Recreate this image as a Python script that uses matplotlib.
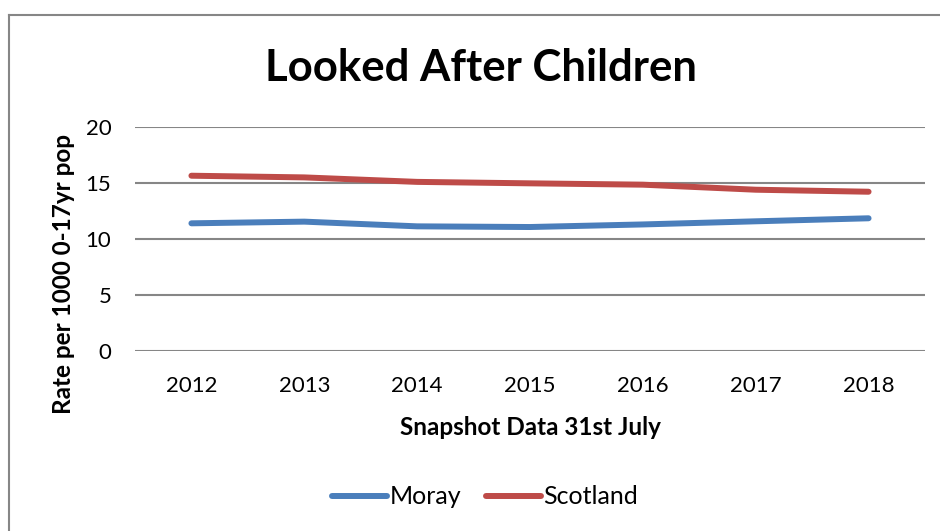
import matplotlib.pyplot as plt
from matplotlib.lines import Line2D

plt.rcParams['font.family'] = ['Lato', 'DejaVu Sans']

years = ['2012', '2013', '2014', '2015', '2016', '2017', '2018']
moray = [11.4, 11.55, 11.13, 11.07, 11.3, 11.58, 11.85]
scotland = [15.65, 15.5, 15.1, 14.97, 14.85, 14.4, 14.22]

fig = plt.figure(figsize=(9.4, 5.31), dpi=100)
W, H = 940, 531

# chart frame (only top and left edges show)
fig.add_artist(Line2D([9 / W, 1], [1 - 15 / H, 1 - 15 / H], color='#868686', lw=1.5))
fig.add_artist(Line2D([9 / W, 9 / W], [0, 1 - 15 / H], color='#868686', lw=1.5))

ax = fig.add_axes([135 / W, 1 - 351 / H, 790 / W, 224 / H])
X = list(range(len(years)))
ax.plot(X, moray, color='#4A7EBB', lw=4.3, solid_capstyle='round', label='Moray')
ax.plot(X, scotland, color='#BE4B48', lw=4.3, solid_capstyle='round', label='Scotland')

ax.set_xlim(-0.5, len(years) - 0.5)
ax.set_ylim(0, 20)
ax.set_yticks([0, 5, 10, 15, 20])
ax.set_xticks(X)
ax.set_xticklabels(years)
ax.yaxis.grid(True, color='#868686', lw=1.5)
ax.set_axisbelow(True)
for s in ax.spines.values():
    s.set_visible(False)
ax.tick_params(length=0, labelsize=16, colors='black')
ax.tick_params(axis='y', pad=17)
ax.tick_params(axis='x', pad=18)

ax.set_xlabel('Snapshot Data 31st July', fontsize=17.5, fontweight='bold')
ax.set_ylabel('Rate per 1000 0-17yr pop', fontsize=17.5, fontweight='bold')
ax.xaxis.set_label_coords(0.5, -(416 - 351) / 224)
ax.yaxis.set_label_coords(-(135 - 75) / 790, (351 - 274) / 224)

fig.text(481 / W, 1 - 68 / H, 'Looked After Children', fontsize=31.5, fontweight='bold',
         ha='center', va='center')

fig.legend(loc='center', bbox_to_anchor=(485 / W, 1 - 497 / H), ncol=2, frameon=False,
           fontsize=18, handlelength=2.2, columnspacing=1.0, handletextpad=0.1)

plt.savefig('out.png', dpi=100)
